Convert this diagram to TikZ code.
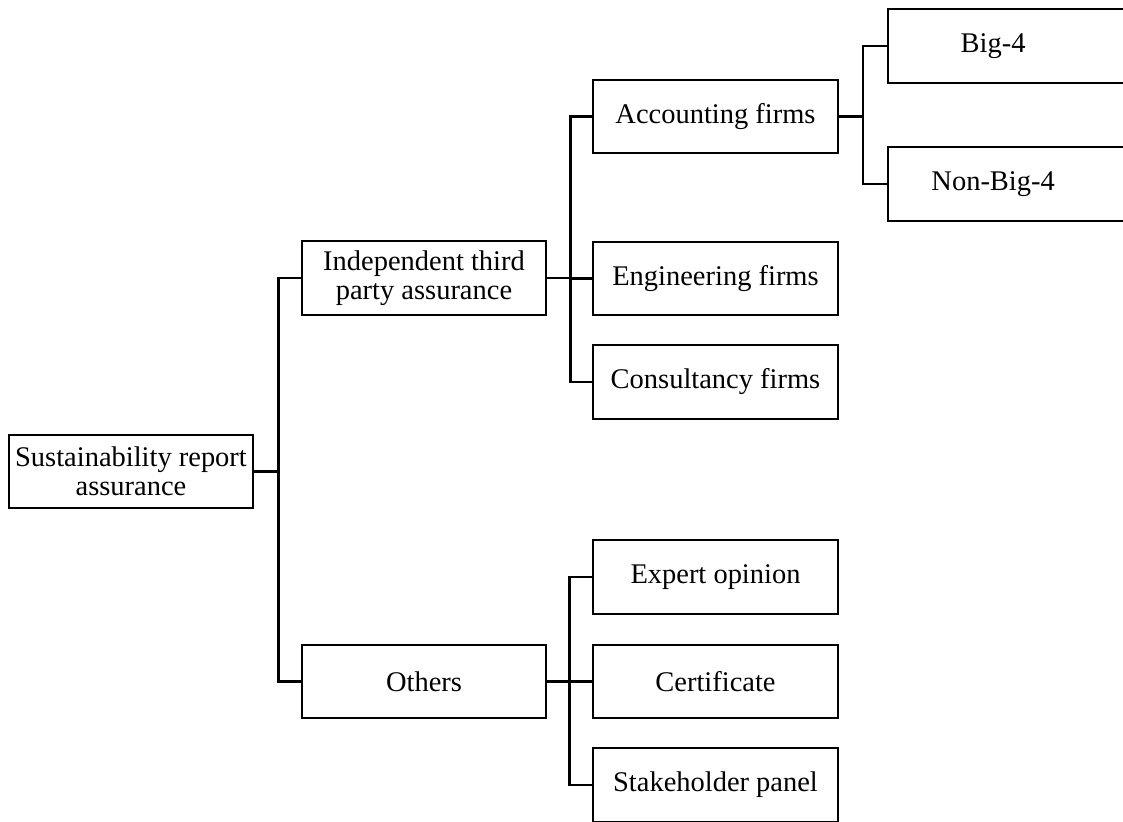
\documentclass[tikz,border=0pt]{standalone}
\usepackage{fontspec}
\setmainfont{Liberation Serif}
\begin{document}
\begin{tikzpicture}[line width=1.3pt,
    box/.style={draw,rectangle,inner sep=2pt,minimum width=4.89cm,minimum height=1.47cm,align=center,font=\fontsize{16.2}{16.8}\selectfont},
    cutbox/.style={box,anchor=west,inner xsep=0pt,text width=5cm,align=left}]
      \clip (0,0) rectangle (22.46,16.42);%

      \node[box] (root) at (2.62,6.99) {Sustainability report\\assurance};%

      \node[box] (ind) at (8.48,10.86) {Independent third\\party assurance};%
      \node[box] (oth) at (8.48,2.79) {Others};%

      \node[box] (acc) at (14.31,14.09) {Accounting firms};%
      \node[box] (eng) at (14.31,10.85) {Engineering firms};%
      \node[box] (con) at (14.31,8.78) {Consultancy firms};%

      \node[box] (exp) at (14.31,4.88) {Expert opinion};%
      \node[box] (cer) at (14.31,2.79) {Certificate};%
      \node[box] (sta) at (14.31,0.72) {Stakeholder panel};%

      \node[cutbox] (big) at (17.74,15.5) {\makebox[4.2cm]{Big-4}};%
      \node[cutbox] (nbig) at (17.74,12.74) {\makebox[4.2cm]{Non-Big-4}};%

      \draw (root.east) -- ++(0.48,0) |- (ind.west);%
      \draw (root.east) -- ++(0.48,0) |- (oth.west);%

      \draw (ind.east) -- ++(0.46,0) |- (acc.west);%
      \draw (ind.east) -- ++(0.46,0) |- (eng.west);%
      \draw (ind.east) -- ++(0.46,0) |- (con.west);%

      \draw (oth.east) -- ++(0.44,0) |- (exp.west);%
      \draw (oth.east) -- ++(0.44,0) |- (cer.west);%
      \draw (oth.east) -- ++(0.44,0) |- (sta.west);%

      \draw (acc.east) -- ++(0.48,0) |- (big.west);%
      \draw (acc.east) -- ++(0.48,0) |- (nbig.west);%
    \end{tikzpicture}
\end{document}
